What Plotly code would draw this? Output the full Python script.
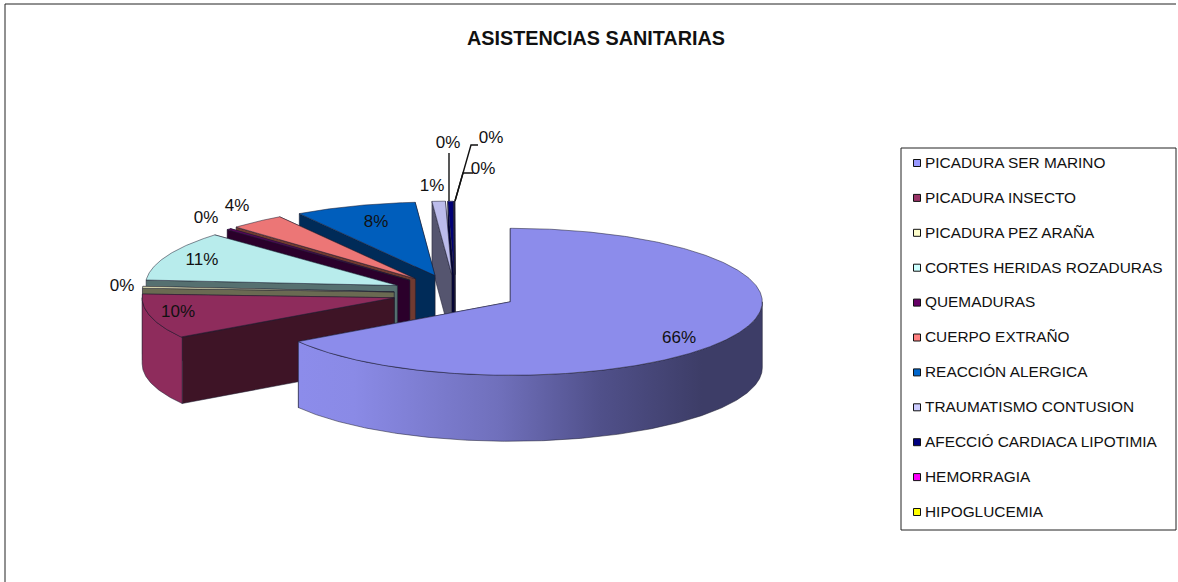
import numpy as np
import plotly.graph_objects as go

TITLE = "ASISTENCIAS SANITARIAS"
CATEGORIES = ["PICADURA SER MARINO", "PICADURA INSECTO", "PICADURA PEZ ARAÑA",
              "CORTES HERIDAS ROZADURAS", "QUEMADURAS", "CUERPO EXTRAÑO",
              "REACCIÓN ALERGICA", "TRAUMATISMO CONTUSION",
              "AFECCIÓ CARDIACA LIPOTIMIA", "HEMORRAGIA", "HIPOGLUCEMIA"]
VALUES = [65.9, 9.9, 0.4, 10.9, 0.3, 3.55, 7.8, 0.85, 0.35, 0.02, 0.03]
TOP_COLORS = ["#8C8CEB", "#8E2C5C", "#EBEBBC", "#B8ECEC", "#5E005E", "#EC7676",
              "#005EBC", "#BCBCEB", "#000076", "#EB00EB", "#EBEB00"]
WALL_COLORS = ["#3D3D67", "#3E1426", "#6A6A52", "#567070", "#2B002B", "#703A30",
               "#002B58", "#55556F", "#000037", "#660066", "#666600"]
LEGEND_COLORS = ["#9999FF", "#993366", "#FFFFCC", "#CCFFFF", "#660066", "#FF8080",
                 "#0066CC", "#CCCCFF", "#000080", "#FF00FF", "#FFFF00"]
LABEL_X = [679, 178, 122, 202, 206, 237, 376, 432, 448, 491, 483]
LABEL_Y = [339, 313, 287, 261, 219, 207, 223, 187, 144, 139, 170]
EXPLODE = [0.25, 0.25, 0.242, 0.25, 0.25, 0.25, 0.25, 0.25, 0.25, 0.25, 0.25]

W, H = 1178, 582
CX, CY, RX, RY, DEPTH = 455, 293, 252, 73.5, 66
EDGE = "rgba(30,30,50,0.75)"

total = sum(VALUES)
ends = np.cumsum(VALUES) / total * 360
starts = np.concatenate([[0], ends[:-1]])


def arc(a0, a1, ax, ay, dy=0):
    n = max(2, int(abs(a1 - a0) * 2) + 2)
    t = np.radians(np.linspace(a0, a1, n))
    return ax + RX * np.sin(t), ay - RY * np.cos(t) + dy


def poly(x, y, color, lw=0.7, gradient=None):
    kw = dict(fillcolor=color)
    if gradient is not None:
        kw = dict(fillgradient=dict(type="horizontal", colorscale=gradient))
    return go.Scatter(x=list(x) + [x[0]], y=list(y) + [y[0]], mode="lines", fill="toself",
                      line=dict(color=EDGE, width=lw), hoverinfo="skip", showlegend=False, **kw)


fig = go.Figure()
BIG_GRAD = [[0, "#8C8CEB"], [0.12, "#8A8AE6"], [0.43, "#7070BC"], [0.65, "#50508A"],
            [0.87, "#3D3D67"], [1, "#3D3D67"]]

for i in range(len(VALUES) - 1, -1, -1):
    a0, a1 = starts[i], ends[i]
    mid = np.radians((a0 + a1) / 2)
    ax = CX + EXPLODE[i] * RX * np.sin(mid)
    ay = CY - EXPLODE[i] * RY * np.cos(mid)
    for a in (a1, a0):
        px = ax + RX * np.sin(np.radians(a))
        py = ay - RY * np.cos(np.radians(a))
        fig.add_trace(poly([ax, px, px, ax], [ay, py, py + DEPTH, ay + DEPTH], WALL_COLORS[i]))
    lo, hi = max(a0, 90), min(a1, 270)
    if hi > lo:
        xa, ya = arc(lo, hi, ax, ay)
        xb, yb = arc(hi, lo, ax, ay, DEPTH)
        fig.add_trace(poly(np.r_[xa, xb], np.r_[ya, yb], TOP_COLORS[i] if i else "#3D3D67",
                           gradient=BIG_GRAD if i == 0 else None))
    xa, ya = arc(a0, a1, ax, ay)
    fig.add_trace(poly(np.r_[ax, xa], np.r_[ay, ya], TOP_COLORS[i]))

# leader lines of the smallest slices
LEADERS = [([449, 449], [153, 201]),
           ([478, 471, 455], [145, 145, 201]),
           ([473, 463, 455], [173, 173, 201])]
for lx, ly in LEADERS:
    fig.add_trace(go.Scatter(x=lx, y=ly, mode="lines", line=dict(color="#111", width=1.4),
                             hoverinfo="skip", showlegend=False))

fig.add_trace(go.Scatter(x=LABEL_X, y=LABEL_Y, mode="text",
                         text=[f"{round(v / total * 100)}%" for v in VALUES],
                         textposition="middle center",
                         textfont=dict(family="Liberation Sans", size=17, color="#111"),
                         hoverinfo="skip", showlegend=False))

# legend
LEG_X0, LEG_X1, LEG_Y0, LEG_Y1 = 901, 1176, 148, 530
LEG_FIRST, LEG_STEP = 164, 34.9
leg_y = [LEG_FIRST + k * LEG_STEP for k in range(len(CATEGORIES))]
fig.add_shape(type="rect", xref="x", yref="y", x0=LEG_X0, x1=LEG_X1, y0=LEG_Y0, y1=LEG_Y1,
              line=dict(color="#222", width=1), fillcolor="white", layer="below")
fig.add_trace(go.Scatter(x=[917] * len(CATEGORIES), y=[v - 1 for v in leg_y], mode="markers",
                         marker=dict(symbol="square", size=7, color=LEGEND_COLORS,
                                     line=dict(color="#111", width=1)),
                         hoverinfo="skip", showlegend=False))
fig.add_trace(go.Scatter(x=[925] * len(CATEGORIES), y=leg_y, mode="text", text=CATEGORIES,
                         textposition="middle right",
                         textfont=dict(family="Liberation Sans", size=15.4, color="#111"),
                         hoverinfo="skip", showlegend=False))

# frame
for x0, y0, x1, y1 in [(5, 4, 1176, 4), (5, 4, 5, 582)]:
    fig.add_shape(type="line", xref="x", yref="y", x0=x0, y0=y0, x1=x1, y1=y1,
                  line=dict(color="#222", width=1), layer="below")

fig.add_annotation(x=595.5, y=38, xref="x", yref="y", text=f"<b>{TITLE}</b>", showarrow=False,
                   font=dict(family="Liberation Sans", size=19.8, color="#111"))

fig.update_layout(width=W, height=H, margin=dict(l=0, r=0, t=0, b=0),
                  paper_bgcolor="white", plot_bgcolor="white", showlegend=False,
                  xaxis=dict(range=[0, W], visible=False, fixedrange=True),
                  yaxis=dict(range=[H, 0], visible=False, fixedrange=True))

fig.write_html("out.html", config=dict(displayModeBar=False),
               post_script="document.body.style.margin='0';document.body.style.overflow='hidden';")
